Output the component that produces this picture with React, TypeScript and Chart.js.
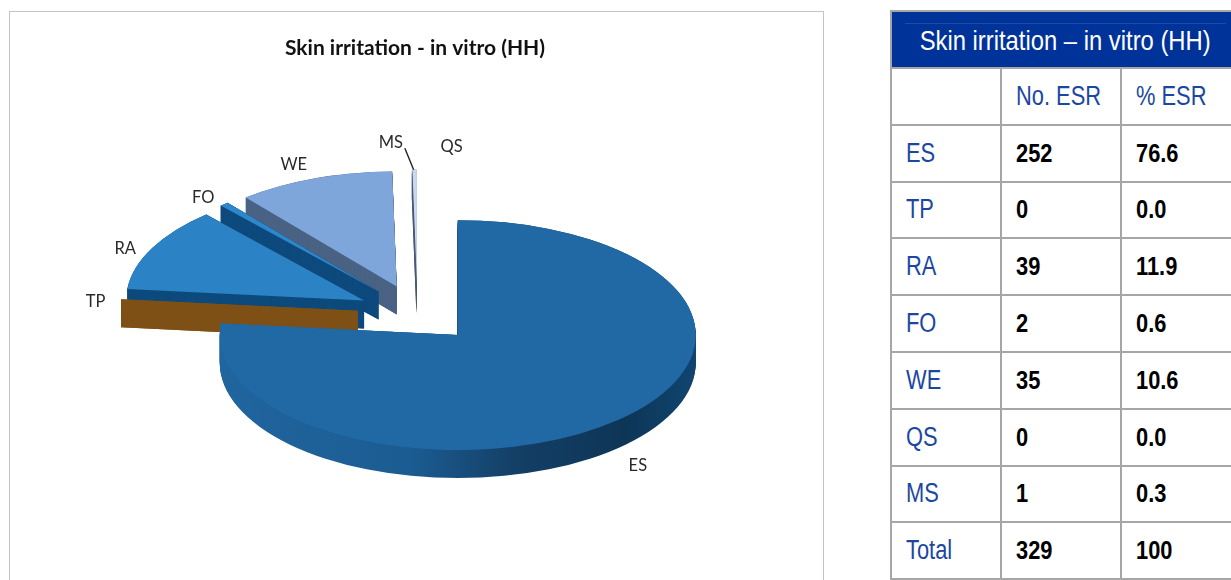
import React, { useEffect, useRef } from "react";
import { Chart, registerables } from "chart.js";

Chart.register(...registerables);

const titleText = "Skin irritation - in vitro (HH)";
const tableTitle = "Skin irritation – in vitro (HH)";
const categories = ["ES", "TP", "RA", "FO", "WE", "QS", "MS"];
const noEsr = [252, 0, 39, 2, 35, 0, 1];
const pctEsr = ["76.6", "0.0", "11.9", "0.6", "10.6", "0.0", "0.3"];
const totalNo = "329";
const totalPct = "100";
const topColors = ["#2169a5", "#7f5015", "#2b82c5", "#2e86cb", "#7fa6da", "#8fa9cf", "#c9d8ee"];
const wallColors = ["#1b5c92", "#7f5015", "#0d4a7c", "#0e4a7d", "#4a6284", "#4a5a74", "#4a5a74"];
const esWallStops: [number, string][] = [
  [0, "#21659f"],
  [0.4, "#1b5c92"],
  [0.62, "#143f66"],
  [0.85, "#0d3556"],
  [1, "#104570"],
];
const FLATTEN = 0.483;
const DEPTH = 28;
const EXPLODE = 60;
const LABEL_GAP = 32;
const labelNudge: Record<string, [number, number]> = {
  TP: [6.5, 4],
  RA: [1.5, 8],
  FO: [0, 5],
  WE: [-9.5, 1],
  QS: [40.5, -8],
  MS: [-23.5, -12],
  ES: [-1, 6],
};

const pie3d = {
  id: "pie3d",
  afterLayout(chart: any) {
    // the chart's title is centred on the frame, slightly left of the pie
    if (chart.titleBlock) chart.titleBlock.left -= 5;
  },
  beforeDatasetsDraw(chart: any) {
    const ctx: CanvasRenderingContext2D = chart.ctx;
    const arcs = chart.getDatasetMeta(0).data;
    const order = arcs.map((_: any, i: number) => i).reverse();
    for (const i of order) {
      const a = arcs[i];
      const { x, y, startAngle, endAngle, outerRadius: R } = a;
      const mid = (startAngle + endAngle) / 2;
      ctx.save();
      ctx.translate(x, y);
      ctx.scale(1, FLATTEN);
      ctx.translate(-x, -y);
      ctx.translate(EXPLODE * Math.cos(mid), EXPLODE * Math.sin(mid));
      let fill: any = wallColors[i];
      if (i === 0) {
        const g = ctx.createLinearGradient(x - R, 0, x + R, 0);
        esWallStops.forEach(([p, c]) => g.addColorStop(p, c));
        fill = g;
      }
      ctx.fillStyle = fill;
      const dy = DEPTH / FLATTEN;
      for (const ang of [startAngle, endAngle]) {
        const ex = x + R * Math.cos(ang);
        const ey = y + R * Math.sin(ang);
        ctx.beginPath();
        ctx.moveTo(x, y);
        ctx.lineTo(ex, ey);
        ctx.lineTo(ex, ey + dy);
        ctx.lineTo(x, y + dy);
        ctx.closePath();
        ctx.fill();
      }
      if (endAngle > startAngle) {
        for (let d = DEPTH; d >= 0; d -= 1) {
          const oy = d / FLATTEN;
          ctx.beginPath();
          ctx.moveTo(x, y + oy);
          ctx.arc(x, y + oy, R, startAngle, endAngle);
          ctx.closePath();
          ctx.fill();
        }
        a.draw(ctx);
      }
      ctx.restore();
    }
    ctx.save();
    ctx.font = "16.5px Lato";
    ctx.fillStyle = "#2a2a2a";
    ctx.textAlign = "center";
    ctx.textBaseline = "middle";
    arcs.forEach((a: any, i: number) => {
      const { x, y, startAngle, endAngle, outerRadius: R } = a;
      const mid = (startAngle + endAngle) / 2;
      const r = R + EXPLODE + LABEL_GAP;
      const lower = Math.sin(mid) > 0 ? DEPTH : 0;
      const px = x + r * Math.cos(mid);
      const py = y + r * Math.sin(mid) * FLATTEN + lower;
      const [nx, ny] = labelNudge[categories[i]] || [0, 0];
      ctx.fillText(categories[i], px + nx, py + ny);
      if (categories[i] === "MS") {
        ctx.strokeStyle = "#222";
        ctx.lineWidth = 1.4;
        ctx.beginPath();
        ctx.moveTo(px + nx + 14, py + ny + 6);
        ctx.lineTo(x + (R + EXPLODE) * Math.cos(mid) - 1, y + (R + EXPLODE) * Math.sin(mid) * FLATTEN);
        ctx.stroke();
      }
    });
    ctx.restore();
    return false;
  },
};

const blue = "#1b47a1";
const cellBase: React.CSSProperties = {
  border: "2px solid #a6a6a6",
  padding: "0 0 0 14px",
  height: 54.8,
  boxSizing: "content-box",
  textAlign: "left",
  whiteSpace: "nowrap",
};

function Narrow({ text, size, squeeze, bold, origin }: { text: string; size: number; squeeze: number; bold?: boolean; origin?: string }) {
  return (
    <span
      style={{
        display: "inline-block",
        fontSize: size,
        fontWeight: bold ? "bold" : "normal",
        transform: `scaleX(${squeeze})`,
        transformOrigin: origin || "left center",
      }}
    >
      {text}
    </span>
  );
}

export default function App() {
  const ref = useRef<HTMLCanvasElement>(null);
  useEffect(() => {
    const chart = new Chart(ref.current as HTMLCanvasElement, {
      type: "pie",
      data: {
        labels: categories,
        datasets: [{ data: noEsr, backgroundColor: topColors, borderWidth: 0 }],
      },
      options: {
        animation: false,
        responsive: false,
        radius: 238,
        layout: { padding: { bottom: 14 } },
        plugins: {
          legend: { display: false },
          tooltip: { enabled: false },
          title: {
            display: true,
            text: titleText,
            color: "#111",
            font: { family: "Lato", size: 21, weight: "bold", lineHeight: 1.2 },
            padding: { top: 36, bottom: 0 },
          },
        },
      } as any,
      plugins: [pie3d],
    });
    return () => chart.destroy();
  }, []);

  const rows = categories.map((c, i) => [c, String(noEsr[i]), pctEsr[i]]);
  rows.push(["Total", totalNo, totalPct]);
  const font = '"Liberation Sans", Arial, sans-serif';

  return (
    <div style={{ position: "fixed", left: 0, top: 0, width: 1231, height: 580, overflow: "hidden", background: "#fff" }}>
      <div style={{ position: "absolute", left: 9, top: 11, width: 813, height: 600, border: "1px solid #c4c4c4" }} />
      <canvas ref={ref} width={835} height={580} style={{ position: "absolute", left: 0, top: 0, width: 835, height: 580 }} />
      <table
        style={{
          position: "absolute",
          left: 890,
          top: 10,
          width: 352,
          borderCollapse: "collapse",
          tableLayout: "fixed",
          fontFamily: font,
          fontSize: 26,
        }}
      >
        <colgroup>
          <col style={{ width: 110 }} />
          <col style={{ width: 120 }} />
          <col style={{ width: 122 }} />
        </colgroup>
        <tbody>
          <tr>
            <th
              colSpan={3}
              style={{ ...cellBase, padding: "2px 4px 0 0", height: 53, background: "#003399", color: "#fff", fontWeight: "normal", textAlign: "center" }}
            >
              <Narrow text={tableTitle} size={28} squeeze={0.85} origin="center center" />
            </th>
          </tr>
          <tr>
            <td style={cellBase} />
            <td style={{ ...cellBase, color: blue }}>
              <Narrow text="No. ESR" size={27} squeeze={0.81} />
            </td>
            <td style={{ ...cellBase, color: blue }}>
              <Narrow text="% ESR" size={27} squeeze={0.81} />
            </td>
          </tr>
          {rows.map((r) => (
            <tr key={r[0]}>
              <td style={{ ...cellBase, color: blue }}>
                <Narrow text={r[0]} size={27} squeeze={0.81} />
              </td>
              <td style={{ ...cellBase, color: "#000" }}>
                <Narrow text={r[1]} size={26} squeeze={0.84} bold />
              </td>
              <td style={{ ...cellBase, color: "#000" }}>
                <Narrow text={r[2]} size={26} squeeze={0.84} bold />
              </td>
            </tr>
          ))}
        </tbody>
      </table>
      <div style={{ position: "absolute", left: 905, top: 23, width: 321, height: 1, background: "#1c4ea3" }} />
    </div>
  );
}
